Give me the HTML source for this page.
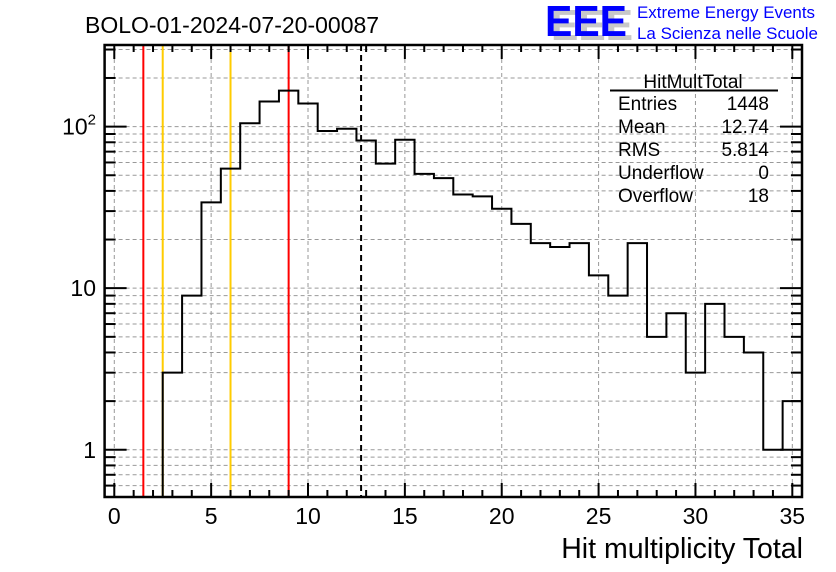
<!DOCTYPE html>
<html><head><meta charset="utf-8"><style>
html,body{margin:0;padding:0;background:#fff;}
svg{display:block;font-family:"Liberation Sans",Arial,sans-serif;}
</style></head><body>
<svg id="chart" width="836" height="572" viewBox="0 0 836 572">
<g id="grid"></g>
<g id="lines"></g>
<path id="hist" fill="none" stroke="#000" stroke-width="2"></path>
<g id="axes"></g>
<text x="85" y="33" font-size="23">BOLO-01-2024-07-20-00087</text>
<text x="803" y="558" font-size="28.5" text-anchor="end">Hit multiplicity Total</text>
<g>
<text x="551" y="40" font-size="44" font-weight="bold" fill="#c8c8c8" textLength="82" lengthAdjust="spacingAndGlyphs">EEE</text>
<text x="545" y="36" font-size="44" font-weight="bold" fill="#0000ff" textLength="82" lengthAdjust="spacingAndGlyphs">EEE</text>
<text x="637" y="18" font-size="16.5" fill="#0000ff" textLength="178" lengthAdjust="spacingAndGlyphs">Extreme Energy Events</text>
<text x="637" y="39" font-size="16.5" fill="#0000ff" textLength="181" lengthAdjust="spacingAndGlyphs">La Scienza nelle Scuole</text>
</g>
<g font-size="19">
<text x="693" y="88" text-anchor="middle">HitMultTotal</text>
<line x1="610" y1="90.5" x2="778" y2="90.5" stroke="#000" stroke-width="2"/>
<text x="618" y="110">Entries</text><text x="769" y="110" text-anchor="end">1448</text>
<text x="618" y="133">Mean</text><text x="769" y="133" text-anchor="end">12.74</text>
<text x="618" y="156">RMS</text><text x="769" y="156" text-anchor="end">5.814</text>
<text x="618" y="179">Underflow</text><text x="769" y="179" text-anchor="end">0</text>
<text x="618" y="202">Overflow</text><text x="769" y="202" text-anchor="end">18</text>
</g>
</svg>
<script>
const binCenters=[0,1,2,3,4,5,6,7,8,9,10,11,12,13,14,15,16,17,18,19,20,21,22,23,24,25,26,27,28,29,30,31,32,33,34,35];
const counts=[0,0,0,3,9,34,55,105,143,167,139,94,97,82,59,83,51,48,38,37,31,25,19,18,19,12,9,19,5,7,3,8,5,4,1,2];
const xTicks=[0,5,10,15,20,25,30,35];
const redLines=[1.5,9];
const yellowLines=[2.5,6];
const meanLine=[12.74];
const X0=104.6,X1=802,XMIN=-0.5,XMAX=35.5;
const YT=45,YB=497,YMIN=0.51,YMAX=320;
function sx(v){return X0+(v-XMIN)/(XMAX-XMIN)*(X1-X0);}
function sy(v){return YB-(Math.log10(v)-Math.log10(YMIN))/(Math.log10(YMAX)-Math.log10(YMIN))*(YB-YT);}
const NS="http://www.w3.org/2000/svg";
function mk(tag,attrs,parent){const e=document.createElementNS(NS,tag);for(const k in attrs)e.setAttribute(k,attrs[k]);parent.appendChild(e);return e;}
const grid=document.getElementById('grid'),axes=document.getElementById('axes'),lines=document.getElementById('lines');
const yVals=[];
for(const d of [0.1,1,10,100]){for(let m=1;m<=9;m++){const v=m*d;if(v>=YMIN&&v<=YMAX)yVals.push(v);}}
for(const v of yVals){
 const y=sy(v);
 const g=mk('line',{x1:X0,x2:X1,y1:y,y2:y,stroke:'#999','stroke-dasharray':'4 3','stroke-width':1},grid);
 
 
 const major=[1,10,100].includes(Math.round(v*1000)/1000);
 const L=major?22:11;
 const t1=mk('line',{x1:X0,x2:X0+L,y1:y,y2:y,stroke:'#000','stroke-width':2},axes);
 
 
 const t2=mk('line',{x1:X1,x2:X1-L,y1:y,y2:y,stroke:'#000','stroke-width':2},axes);
 
 
}
for(let v=0;v<=35;v++){
 const x=sx(v);const major=v%5===0;const L=major?14:7;
 const t1=mk('line',{x1:x,x2:x,y1:YB,y2:YB-L,stroke:'#000','stroke-width':2},axes);
 
 
 const t2=mk('line',{x1:x,x2:x,y1:YT,y2:YT+L,stroke:'#000','stroke-width':2},axes);
 
 
}
for(const v of xTicks){
 const x=sx(v);
 const g=mk('line',{x1:x,x2:x,y1:YT,y2:YB,stroke:'#999','stroke-dasharray':'4 3','stroke-width':1},grid);
 
 
 const t=mk('text',{x:x,y:524,'font-size':23,'text-anchor':'middle'},axes);
 t.textContent=String(v);
 
 
}
const yl=[[1,'1'],[10,'10']];
for(const [v,s] of yl){
 const t=mk('text',{x:96,y:sy(v)+8,'font-size':23,'text-anchor':'end'},axes);
 t.textContent=s;
 
 
}
const t100=mk('text',{x:96,y:sy(100)+8,'font-size':23,'text-anchor':'end'},axes);
t100.innerHTML='10<tspan dy="-10" font-size="15">2</tspan>';


const fr=mk('rect',{x:X0,y:YT,width:X1-X0,height:YB-YT,fill:'none',stroke:'#000','stroke-width':2.5},axes);


function vline(v,color,dash,name){
 const l=mk('line',{x1:sx(v),x2:sx(v),y1:YT,y2:YB,stroke:color,'stroke-width':2},lines);
 if(dash)l.setAttribute('stroke-dasharray',dash);
 
 
}
redLines.forEach(v=>vline(v,'#ff0000',null,'red-threshold-line'));
yellowLines.forEach(v=>vline(v,'#ffcc00',null,'yellow-threshold-line'));
meanLine.forEach(v=>vline(v,'#000',"6 4",'mean-line'));
let d='';let started=false;
for(let i=0;i<binCenters.length;i++){
 const c=counts[i];const xl=sx(binCenters[i]-0.5),xr=sx(binCenters[i]+0.5);
 const y=c>0?Math.min(sy(c),YB):YB;
 if(c<=0&&!started)continue;
 if(!started){d+=`M${xl},${YB} L${xl},${y} `;started=true;}
 else d+=`L${xl},${y} `;
 d+=`L${xr},${y} `;
}
document.getElementById('hist').setAttribute('d',d);
</script>
</body></html>
